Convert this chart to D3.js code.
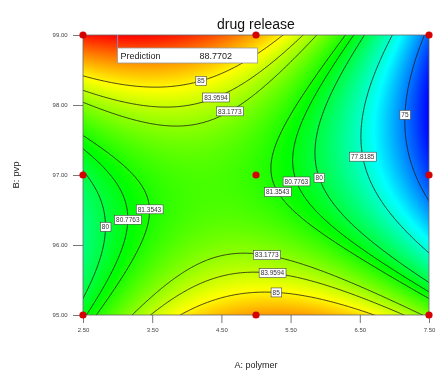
<!DOCTYPE html>
<html>
<head>
<meta charset="utf-8">
<script src="https://cdn.jsdelivr.net/npm/d3@7"></script>
<style>
  body { margin: 0; background: #fff; }
  #wrap { position: relative; width: 438px; height: 373px; }
  #wrap canvas, #wrap svg { position: absolute; left: 0; top: 0; }
  text { font-family: Arial, "Liberation Sans", sans-serif; }
</style>
</head>
<body>
<div id="wrap"></div>
<script>
// ---- data ----
const title = "drug release";
const xLabel = "A: polymer";
const yLabel = "B: pvp";
const xDomain = [2.5, 7.5];
const yDomain = [95, 99];
const xTicks = [2.5, 3.5, 4.5, 5.5, 6.5, 7.5];
const yTicks = [95, 96, 97, 98, 99];
// fitted quadratic model in coded factors a=(A-5)/2.5, b=(B-97)/2
const modelTerms = ["Intercept", "A", "B", "AB", "A^2", "B^2"];
const modelCoefs = [81.65, -2.90, -0.10, -4.05, -4.68, 4.65];
const contourLevels = [75, 77.8185, 80, 80.7763, 81.3543, 83.1773, 83.9594, 85];
// contour label anchors (approximate, in data units) and their levels
const labelLevels = [85, 83.9594, 83.1773, 75, 77.8185, 80, 80.7763, 81.3543, 83.1773, 83.9594, 85, 81.3543, 80.7763, 80];
const labelA = [4.18, 4.39, 4.58, 7.12, 6.53, 5.91, 5.59, 5.32, 5.17, 5.25, 5.30, 3.47, 3.14, 2.83];
const labelB = [98.4, 98.16, 97.96, 97.86, 97.26, 96.96, 96.91, 96.76, 95.9, 95.66, 95.39, 96.51, 96.36, 96.26];
// design points
const designA = [2.5, 5, 7.5];
const designB = [95, 97, 99];
// prediction flag
const predA = 3.0, predB = 99.0;
const predText = ["Prediction", "88.7702"];

// ---- layout ----
const W = 438, H = 373;
const plot = { left: 83, right: 429, top: 35, bottom: 315 };
const x = d3.scaleLinear().domain(xDomain).range([plot.left, plot.right]);
const y = d3.scaleLinear().domain(yDomain).range([plot.bottom, plot.top]);

function model(A, B) {
  const a = (A - 5) / 2.5, b = (B - 97) / 2;
  const c = modelCoefs;
  return c[0] + c[1]*a + c[2]*b + c[3]*a*b + c[4]*a*a + c[5]*b*b;
}

// ---- grid ----
const steps = 200, pad = 3;
const dA = (xDomain[1]-xDomain[0]) / steps, dB = (yDomain[1]-yDomain[0]) / steps;
const nx = steps + 1 + 2*pad, ny = steps + 1 + 2*pad;
const A0 = xDomain[0] - pad*dA, B0 = yDomain[0] - pad*dB;
const values = new Float64Array(nx*ny);
for (let j = 0; j < ny; j++) for (let i = 0; i < nx; i++) values[j*nx+i] = model(A0 + i*dA, B0 + j*dB);

// value range inside the plot
let vmin = Infinity, vmax = -Infinity;
for (let j = pad; j <= pad+steps; j++) for (let i = pad; i <= pad+steps; i++) {
  const v = values[j*nx+i]; if (v < vmin) vmin = v; if (v > vmax) vmax = v;
}
const color = d3.scaleLinear()
  .domain(d3.range(5).map(k => vmin + k*(vmax-vmin)/4))
  .range(["#0000ff", "#00ffff", "#00ff00", "#ffff00", "#ff0000"])
  .interpolate(d3.interpolateRgb);

const wrap = d3.select("#wrap");
// ---- filled surface on canvas ----
const canvas = wrap.append("canvas").attr("width", W).attr("height", H).node();
const ctx = canvas.getContext("2d");
const pw = plot.right - plot.left, ph = plot.bottom - plot.top;
const img = ctx.createImageData(pw, ph);
for (let py = 0; py < ph; py++) {
  for (let px = 0; px < pw; px++) {
    const A = x.invert(plot.left + px + 0.5), B = y.invert(plot.top + py + 0.5);
    const c = d3.rgb(color(model(A, B)));
    const k = (py*pw + px)*4;
    img.data[k] = c.r; img.data[k+1] = c.g; img.data[k+2] = c.b; img.data[k+3] = 255;
  }
}
ctx.putImageData(img, plot.left, plot.top);

// ---- svg overlay ----
const svg = wrap.append("svg").attr("width", W).attr("height", H);
svg.append("defs").append("clipPath").attr("id", "clip")
  .append("rect").attr("x", plot.left).attr("y", plot.top).attr("width", pw).attr("height", ph);

const contours = d3.contours().size([nx, ny]).thresholds(contourLevels)(Array.from(values));
const toPx = p => [x(A0 + (p[0]-0.5)*dA), y(B0 + (p[1]-0.5)*dB)];
const lineGen = d3.line();
const gC = svg.append("g").attr("clip-path", "url(#clip)");
contours.forEach(ct => {
  ct.coordinates.forEach(poly => poly.forEach(ring => {
    gC.append("path").attr("d", lineGen(ring.map(toPx)) + "Z")
      .attr("fill", "none").attr("stroke", "#1a1a1a").attr("stroke-width", 0.8);
  }));
});

// frame
svg.append("rect").attr("x", plot.left).attr("y", plot.top).attr("width", pw).attr("height", ph)
  .attr("fill", "none").attr("stroke", "#666").attr("stroke-width", 0.8);

// axes
const xAxis = d3.axisBottom(x).tickValues(xTicks).tickFormat(d3.format(".2f")).tickSize(8).tickSizeOuter(0);
const yAxis = d3.axisLeft(y).tickValues(yTicks).tickFormat(d3.format(".2f")).tickSize(10).tickSizeOuter(0);
const gx = svg.append("g").attr("transform", `translate(0,${plot.bottom})`).call(xAxis);
const gy = svg.append("g").attr("transform", `translate(${plot.left},0)`).call(yAxis);
[gx, gy].forEach(g => {
  g.select(".domain").remove();
  g.selectAll(".tick line").attr("stroke", "#555").attr("stroke-width", 0.8);
  g.selectAll(".tick text").attr("fill", "#444").attr("font-size", 6).attr("font-family", "Arial, sans-serif");
});
gx.selectAll(".tick text").attr("dy", "1.0em");
gy.selectAll(".tick text").attr("dx", "-0.4em");

// contour labels, snapped onto their contour
function snap(A, B, L) {
  let a = (A-5)/2.5, b = (B-97)/2;
  const c = modelCoefs;
  for (let k = 0; k < 30; k++) {
    const f = c[0] + c[1]*a + c[2]*b + c[3]*a*b + c[4]*a*a + c[5]*b*b - L;
    const ga = c[1] + c[3]*b + 2*c[4]*a, gb = c[2] + c[3]*a + 2*c[5]*b;
    const g2 = ga*ga + gb*gb; if (g2 < 1e-9) break;
    a -= f*ga/g2; b -= f*gb/g2;
  }
  return [5 + 2.5*a, 97 + 2*b];
}
const gL = svg.append("g");
labelLevels.forEach((L, i) => {
  const [A, B] = snap(labelA[i], labelB[i], L);
  const cx = x(A), cy = y(B);
  const t = gL.append("text").attr("x", cx).attr("y", cy + 2.3)
    .attr("text-anchor", "middle").attr("font-size", 6.5).attr("fill", "#333").text(String(L));
  const bb = t.node().getBBox();
  gL.insert("rect", () => t.node())
    .attr("x", bb.x - 1.5).attr("y", cy - 4.5).attr("width", bb.width + 3).attr("height", 9)
    .attr("fill", "#fff").attr("stroke", "#444").attr("stroke-width", 0.6);
});

// design points
designA.forEach(A => designB.forEach(B => {
  svg.append("circle").attr("cx", x(A)).attr("cy", y(B)).attr("r", 3.6).attr("fill", "#d50000");
}));

// prediction flag
const fx = x(predA), fy = y(predB);
svg.append("line").attr("x1", fx).attr("x2", fx).attr("y1", fy).attr("y2", fy + 13)
  .attr("stroke", "#8c84d0").attr("stroke-width", 1);
svg.append("rect").attr("x", fx).attr("y", fy + 13).attr("width", 140).attr("height", 15)
  .attr("fill", "#fff").attr("stroke", "#9a9a9a").attr("stroke-width", 0.8);
svg.append("text").attr("x", fx + 3).attr("y", fy + 24).attr("font-size", 9).attr("fill", "#222").text(predText[0]);
svg.append("text").attr("x", fx + 82).attr("y", fy + 24).attr("font-size", 9).attr("fill", "#222").text(predText[1]);

// title and axis labels
svg.append("text").attr("x", (plot.left + plot.right)/2).attr("y", 29).attr("text-anchor", "middle")
  .attr("font-size", 14).attr("fill", "#111").text(title);
svg.append("text").attr("x", (plot.left + plot.right)/2).attr("y", 368).attr("text-anchor", "middle")
  .attr("font-size", 9).attr("fill", "#222").text(xLabel);
svg.append("text").attr("transform", `translate(19,${(plot.top+plot.bottom)/2}) rotate(-90)`)
  .attr("text-anchor", "middle").attr("font-size", 9.5).attr("fill", "#222").text(yLabel);
</script>
</body>
</html>
